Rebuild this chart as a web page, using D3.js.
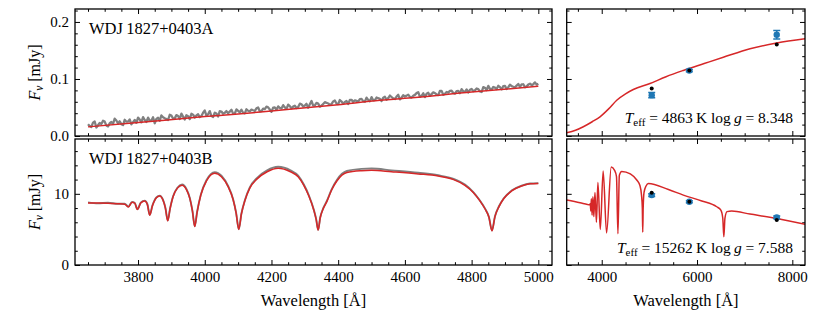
<!DOCTYPE html>
<html>
<head>
<meta charset="utf-8">
<script src="https://cdn.jsdelivr.net/npm/d3@7"></script>
<style>
body { margin: 0; background: #fff; }
svg text { font-family: "Liberation Serif", "DejaVu Serif", serif !important; fill: #000; }
</style>
</head>
<body>
<svg id="chart"></svg>
<script>
var width = 830
var height = 312

// ---- data ----

// star A spectrum, observed: values on 3650,3660,...,5000 and on 3655,3665,...,4995
var specA_wave = d3.range(3650, 5001, 10)
var specA_obs = [
  0.0208, 0.0159, 0.0255, 0.0188, 0.0211, 0.0252, 0.0168, 0.0245, 0.0304, 0.0220,
  0.0207, 0.0284, 0.0253, 0.0205, 0.0282, 0.0323, 0.0239, 0.0280, 0.0321, 0.0272,
  0.0224, 0.0319, 0.0360, 0.0311, 0.0281, 0.0358, 0.0309, 0.0351, 0.0392, 0.0289,
  0.0348, 0.0390, 0.0323, 0.0382, 0.0352, 0.0447, 0.0380, 0.0349, 0.0409, 0.0342,
  0.0429, 0.0406, 0.0398, 0.0459, 0.0394, 0.0442, 0.0461, 0.0396, 0.0443, 0.0463,
  0.0440, 0.0501, 0.0437, 0.0470, 0.0503, 0.0424, 0.0500, 0.0519, 0.0482, 0.0502,
  0.0549, 0.0484, 0.0531, 0.0509, 0.0556, 0.0533, 0.0496, 0.0614, 0.0535, 0.0568,
  0.0532, 0.0593, 0.0570, 0.0561, 0.0623, 0.0558, 0.0605, 0.0597, 0.0560, 0.0635,
  0.0626, 0.0604, 0.0651, 0.0600, 0.0634, 0.0681, 0.0630, 0.0663, 0.0613, 0.0688,
  0.0665, 0.0684, 0.0648, 0.0723, 0.0672, 0.0692, 0.0725, 0.0674, 0.0721, 0.0769,
  0.0704, 0.0681, 0.0757, 0.0734, 0.0753, 0.0716, 0.0792, 0.0741, 0.0760, 0.0794,
  0.0743, 0.0790, 0.0823, 0.0773, 0.0764, 0.0825, 0.0802, 0.0822, 0.0771, 0.0846,
  0.0880, 0.0815, 0.0848, 0.0881, 0.0817, 0.0878, 0.0855, 0.0875, 0.0852, 0.0913,
  0.0904, 0.0854, 0.0901, 0.0892, 0.0940, 0.0917
]
var specA_wave2 = d3.range(3655, 5000, 10)
var specA_obs2 = [
  0.0175, 0.0234, 0.0149, 0.0227, 0.0268, 0.0183, 0.0224, 0.0212, 0.0271, 0.0258,
  0.0191, 0.0251, 0.0292, 0.0243, 0.0231, 0.0290, 0.0331, 0.0246, 0.0270, 0.0329,
  0.0298, 0.0268, 0.0327, 0.0296, 0.0373, 0.0307, 0.0366, 0.0299, 0.0341, 0.0364,
  0.0297, 0.0374, 0.0362, 0.0331, 0.0408, 0.0359, 0.0437, 0.0334, 0.0393, 0.0435,
  0.0390, 0.0437, 0.0428, 0.0392, 0.0467, 0.0416, 0.0408, 0.0469, 0.0432, 0.0451,
  0.0485, 0.0434, 0.0481, 0.0515, 0.0464, 0.0497, 0.0460, 0.0494, 0.0541, 0.0476,
  0.0523, 0.0515, 0.0492, 0.0567, 0.0517, 0.0564, 0.0555, 0.0532, 0.0580, 0.0515,
  0.0562, 0.0582, 0.0545, 0.0606, 0.0569, 0.0631, 0.0566, 0.0613, 0.0633, 0.0596,
  0.0615, 0.0648, 0.0612, 0.0673, 0.0608, 0.0627, 0.0675, 0.0652, 0.0671, 0.0635,
  0.0710, 0.0659, 0.0692, 0.0642, 0.0717, 0.0708, 0.0686, 0.0705, 0.0752, 0.0687,
  0.0749, 0.0740, 0.0703, 0.0765, 0.0728, 0.0789, 0.0724, 0.0772, 0.0791, 0.0754,
  0.0787, 0.0751, 0.0784, 0.0817, 0.0809, 0.0786, 0.0833, 0.0782, 0.0858, 0.0807,
  0.0826, 0.0860, 0.0823, 0.0856, 0.0875, 0.0825, 0.0900, 0.0863, 0.0883, 0.0860,
  0.0907, 0.0870, 0.0918, 0.0909, 0.0900
]
var specA_modelWave = [3650, 3800, 4000, 4100, 4200, 4400, 4526, 4600, 4800, 5000]
var specA_model = [0.0160, 0.0235, 0.0340, 0.0385, 0.0440, 0.0550, 0.0625, 0.0660, 0.0770, 0.0873]

// star B spectrum (Balmer lines), model and observed on the same points
var specB_wave = [3650, 3680, 3710, 3740, 3760, 3771, 3782, 3790, 3798, 3808,
  3820, 3828, 3835, 3843, 3855, 3865, 3875, 3882, 3889, 3896,
  3905, 3918, 3932, 3945, 3955, 3963, 3970, 3977, 3988, 4005,
  4030, 4050, 4070, 4085, 4094, 4102, 4110, 4120, 4135, 4157,
  4187, 4220, 4257, 4280, 4297, 4312, 4327, 4334, 4340, 4346,
  4355, 4366, 4380, 4396, 4426, 4470, 4500, 4560, 4640, 4700,
  4746, 4780, 4805, 4825, 4840, 4852, 4861, 4870, 4882, 4896,
  4920, 4950, 4975, 5000]
var specB_model = [8.72, 8.70, 8.66, 8.62, 8.55, 8.15, 8.80, 8.70, 7.80, 8.70,
  9.00, 8.50, 7.00, 8.30, 9.45, 9.70, 9.10, 8.00, 6.20, 7.90,
  9.60, 10.80, 11.20, 10.60, 9.40, 7.60, 5.40, 7.40, 9.80, 11.80,
  12.90, 12.40, 11.00, 9.20, 7.30, 5.00, 7.20, 9.00, 10.80, 12.10,
  13.10, 13.60, 13.10, 12.40, 11.20, 9.70, 7.70, 6.40, 4.90, 6.60,
  7.90, 8.90, 10.50, 11.80, 13.00, 13.25, 13.30, 13.10, 12.80, 12.50,
  12.00, 11.20, 10.20, 9.00, 7.90, 6.70, 4.80, 6.80, 8.20, 9.30,
  10.40, 11.10, 11.40, 11.46]
var specB_obs = [8.80, 8.66, 8.75, 8.60, 8.62, 8.20, 8.85, 8.74, 7.85, 8.75,
  9.05, 8.55, 7.05, 8.35, 9.50, 9.75, 9.15, 8.05, 6.25, 7.95,
  9.65, 10.85, 11.30, 10.70, 9.45, 7.65, 5.45, 7.45, 9.85, 11.90,
  13.05, 12.55, 11.10, 9.25, 7.35, 5.05, 7.25, 9.05, 10.90, 12.25,
  13.30, 13.80, 13.30, 12.55, 11.30, 9.80, 7.75, 6.45, 4.95, 6.65,
  7.95, 9.00, 10.60, 11.95, 13.20, 13.50, 13.55, 13.30, 12.95, 12.60,
  12.10, 11.30, 10.25, 9.05, 7.95, 6.75, 4.85, 6.85, 8.25, 9.35,
  10.45, 11.15, 11.45, 11.50]

// photometric model curves
var sedA_wave = [3265, 3450, 3614, 3800, 3964, 4150, 4315, 4500, 4663, 5013, 5350, 5713, 6150, 6552, 7112, 7672, 8266]
var sedA_flux = [0.0058, 0.0100, 0.0162, 0.0250, 0.0337, 0.0480, 0.0628, 0.0740, 0.0815, 0.0920, 0.1040, 0.1150, 0.1270, 0.1380, 0.1530, 0.1630, 0.1705]

var sedB_wave = [3265, 3545, 3700, 3740, 3760, 3771, 3782, 3798, 3815, 3835,
  3858, 3889, 3920, 3970, 4030, 4102, 4200, 4270, 4310, 4340,
  4370, 4420, 4600, 4740, 4800, 4835, 4852, 4861, 4870, 4888,
  4930, 4980, 5400, 5713, 6100, 6413, 6500, 6540, 6563, 6586,
  6630, 6728, 7112, 7700, 8266]
var sedB_flux = [9.12, 8.74, 8.50, 8.45, 8.60, 7.60, 9.30, 7.00, 9.60, 6.80,
  10.20, 6.00, 11.60, 5.00, 13.20, 4.50, 13.75, 13.30, 12.40, 4.40,
  12.60, 13.15, 12.80, 11.90, 11.20, 9.80, 8.00, 4.60, 8.00, 10.20,
  11.10, 11.45, 10.60, 9.82, 9.00, 8.18, 7.70, 6.60, 3.97, 6.60,
  7.50, 7.57, 7.15, 6.50, 5.71]

// photometry: effective wavelength, observed flux, error, synthetic flux
var phot_wave = [5049, 5838, 7673]
var photA_obs = [0.0716, 0.1147, 0.1775]
var photA_err = [0.0045, 0.0020, 0.0075]
var photA_syn = [0.0832, 0.1147, 0.1606]
var photB_obs = [9.82, 8.88, 6.69]
var photB_err = [0.20, 0.15, 0.20]
var photB_syn = [10.14, 8.88, 6.31]

var names = ["WDJ\u20091827+0403A", "WDJ\u20091827+0403B"]
var teff = ["4863", "15262"]
var logg = ["8.348", "7.588"]

// ---- layout ----
var leftRange = [75, 552]
var rightRange = [566.7, 805]
var topRange = [136, 9]
var botRange = [265, 139]

var red = "#d62728", blue = "#1f77b4", grey = "#808080"

var xSpec = d3.scaleLinear().domain([3611, 5041]).range(leftRange)
var xSed = d3.scaleLinear().domain([3265, 8266]).range(rightRange)
var yA = d3.scaleLinear().domain([0, 0.2227]).range(topRange)
var yB = d3.scaleLinear().domain([0, 17.7]).range(botRange)

var svg = d3.select("#chart")
  .attr("width", width)
  .attr("height", height)

function zip(xs, ys) {
  return xs.map(function (x, i) { return [x, ys[i]] })
}

function inRange(vals, dom) {
  return vals.filter(function (v) { return v >= dom[0] - 1e-9 && v <= dom[1] + 1e-9 })
}

// draw one panel frame with inward ticks on all four sides
var clipCount = 0
function panel(x, y, opts) {
  var g = svg.append("g")
  var x0 = x.range()[0], x1 = x.range()[1]
  var y0 = y.range()[1], y1 = y.range()[0]

  var id = "clip" + (clipCount++)
  svg.append("clipPath").attr("id", id)
    .append("rect").attr("x", x0).attr("y", y0).attr("width", x1 - x0).attr("height", y1 - y0)

  var xMajor = inRange(opts.xMajor, x.domain())
  var xMinor = inRange(opts.xMinor, x.domain()).filter(function (v) { return xMajor.indexOf(v) < 0 })
  var yMajor = inRange(opts.yMajor, y.domain())
  var yMinor = inRange(opts.yMinor, y.domain()).filter(function (v) {
    return !yMajor.some(function (m) { return Math.abs(m - v) < 1e-9 })
  })

  function addAxis(axisFn, scale, vals, size, pos, labels) {
    var ax = axisFn(scale).tickValues(vals).tickSize(-size).tickSizeOuter(0).tickPadding(6)
    if (labels) ax.tickFormat(labels)
    else ax.tickFormat("")
    var a = g.append("g").attr("transform", pos).call(ax)
    a.select(".domain").remove()
    a.selectAll("line").attr("stroke", "#000").attr("stroke-width", 1)
    a.selectAll("text").attr("font-size", 15)
    return a
  }

  // bottom
  addAxis(d3.axisBottom, x, xMajor, 5, "translate(0," + y1 + ")", opts.xLabels ? d3.format("d") : null)
  addAxis(d3.axisBottom, x, xMinor, 2.8, "translate(0," + y1 + ")", null)
  // top
  addAxis(d3.axisTop, x, xMajor, 5, "translate(0," + y0 + ")", null)
  addAxis(d3.axisTop, x, xMinor, 2.8, "translate(0," + y0 + ")", null)
  // left
  addAxis(d3.axisLeft, y, yMajor, 5, "translate(" + x0 + ",0)", opts.yLabels)
  addAxis(d3.axisLeft, y, yMinor, 2.8, "translate(" + x0 + ",0)", null)
  // right
  addAxis(d3.axisRight, y, yMajor, 5, "translate(" + x1 + ",0)", null)
  addAxis(d3.axisRight, y, yMinor, 2.8, "translate(" + x1 + ",0)", null)

  var body = svg.append("g").attr("clip-path", "url(#" + id + ")")

  svg.append("rect")
    .attr("x", x0).attr("y", y0)
    .attr("width", x1 - x0).attr("height", y1 - y0)
    .attr("fill", "none").attr("stroke", "#000").attr("stroke-width", 1.3)

  return body
}

var specTicks = { xMajor: d3.range(3600, 5001, 200), xMinor: d3.range(3600, 5041, 50) }
var sedTicks = { xMajor: [4000, 6000, 8000], xMinor: d3.range(3500, 8267, 500) }
var ticksA = { yMajor: [0, 0.1, 0.2], yMinor: d3.range(0, 0.223, 0.02) }
var ticksB = { yMajor: [0, 10], yMinor: d3.range(0, 17.7, 2) }

var pA = panel(xSpec, yA, {
  xMajor: specTicks.xMajor, xMinor: specTicks.xMinor,
  yMajor: ticksA.yMajor, yMinor: ticksA.yMinor, yLabels: d3.format(".1f")
})
var pB = panel(xSpec, yB, {
  xMajor: specTicks.xMajor, xMinor: specTicks.xMinor, xLabels: true,
  yMajor: ticksB.yMajor, yMinor: ticksB.yMinor, yLabels: d3.format("d")
})
var sA = panel(xSed, yA, {
  xMajor: sedTicks.xMajor, xMinor: sedTicks.xMinor,
  yMajor: ticksA.yMajor, yMinor: ticksA.yMinor
})
var sB = panel(xSed, yB, {
  xMajor: sedTicks.xMajor, xMinor: sedTicks.xMinor, xLabels: true,
  yMajor: ticksB.yMajor, yMinor: ticksB.yMinor
})

// ---- spectra ----
function drawLine(g, x, y, pts, color, w, curve) {
  g.append("path")
    .datum(pts)
    .attr("d", d3.line().x(function (d) { return x(d[0]) }).y(function (d) { return y(d[1]) }).curve(curve))
    .attr("fill", "none")
    .attr("stroke", color)
    .attr("stroke-width", w)
    .attr("stroke-linejoin", "round")
}

// both halves of the observed A spectrum, in wavelength order
var obsA = zip(specA_wave, specA_obs).concat(zip(specA_wave2, specA_obs2))
  .sort(function (a, b) { return a[0] - b[0] })

drawLine(pA, xSpec, yA, obsA, grey, 2.3, d3.curveLinear)
drawLine(pA, xSpec, yA, zip(specA_modelWave, specA_model), red, 1.5, d3.curveMonotoneX)

drawLine(pB, xSpec, yB, zip(specB_wave, specB_obs), grey, 1.9, d3.curveMonotoneX)
drawLine(pB, xSpec, yB, zip(specB_wave, specB_model), red, 1.5, d3.curveMonotoneX)

drawLine(sA, xSed, yA, zip(sedA_wave, sedA_flux), red, 1.5, d3.curveMonotoneX)
drawLine(sB, xSed, yB, zip(sedB_wave, sedB_flux), red, 1.5, d3.curveMonotoneX)

// ---- photometry ----
function drawPhot(g, y, obs, err, syn) {
  var pts = phot_wave.map(function (w, i) { return { w: w, o: obs[i], e: err[i], s: syn[i] } })
  var eb = g.selectAll(".eb").data(pts).enter().append("g")
  eb.append("line")
    .attr("x1", function (d) { return xSed(d.w) }).attr("x2", function (d) { return xSed(d.w) })
    .attr("y1", function (d) { return y(d.o - d.e) }).attr("y2", function (d) { return y(d.o + d.e) })
    .attr("stroke", blue).attr("stroke-width", 1.5)
  eb.append("line")
    .attr("x1", function (d) { return xSed(d.w) - 3.5 }).attr("x2", function (d) { return xSed(d.w) + 3.5 })
    .attr("y1", function (d) { return y(d.o - d.e) }).attr("y2", function (d) { return y(d.o - d.e) })
    .attr("stroke", blue).attr("stroke-width", 1.5)
  eb.append("line")
    .attr("x1", function (d) { return xSed(d.w) - 3.5 }).attr("x2", function (d) { return xSed(d.w) + 3.5 })
    .attr("y1", function (d) { return y(d.o + d.e) }).attr("y2", function (d) { return y(d.o + d.e) })
    .attr("stroke", blue).attr("stroke-width", 1.5)
  eb.append("circle")
    .attr("cx", function (d) { return xSed(d.w) }).attr("cy", function (d) { return y(d.o) })
    .attr("r", 3.2).attr("fill", blue)
  eb.append("circle")
    .attr("cx", function (d) { return xSed(d.w) }).attr("cy", function (d) { return y(d.s) })
    .attr("r", 2).attr("fill", "#000")
}
drawPhot(sA, yA, photA_obs, photA_err, photA_syn)
drawPhot(sB, yB, photB_obs, photB_err, photB_syn)

// ---- text ----
svg.append("text").attr("x", 89).attr("y", 34.3).attr("font-size", 16.5).text(names[0])
svg.append("text").attr("x", 89).attr("y", 164.3).attr("font-size", 16.5).text(names[1])

function paramText(yb, t, g) {
  var tx = svg.append("text").attr("x", 793).attr("y", yb).attr("font-size", 15.5).attr("text-anchor", "end")
  tx.append("tspan").attr("font-style", "italic").text("T")
  tx.append("tspan").attr("font-size", 11).attr("dy", 3).text("eff")
  tx.append("tspan").attr("dy", -3).text(" = " + t + "\u2009K  log\u2009")
  tx.append("tspan").attr("font-style", "italic").text("g")
  tx.append("tspan").text(" = " + g)
}
paramText(123.3, teff[0], logg[0])
paramText(253.3, teff[1], logg[1])

function yLabel(cy) {
  var tx = svg.append("text")
    .attr("transform", "translate(39.5," + cy + ") rotate(-90)")
    .attr("text-anchor", "middle").attr("font-size", 16)
  tx.append("tspan").attr("font-style", "italic").text("F")
  tx.append("tspan").attr("font-style", "italic").attr("font-size", 11.5).attr("dy", 3).text("\u03bd")
  tx.append("tspan").attr("dy", -3).text(" [mJy]")
}
yLabel((topRange[0] + topRange[1]) / 2)
yLabel((botRange[0] + botRange[1]) / 2)

function xLabel(cx) {
  svg.append("text").attr("x", cx).attr("y", 305.5).attr("text-anchor", "middle")
    .attr("font-size", 16.5).text("Wavelength [\u00c5]")
}
xLabel((leftRange[0] + leftRange[1]) / 2)
xLabel((rightRange[0] + rightRange[1]) / 2)
</script>
</body>
</html>
